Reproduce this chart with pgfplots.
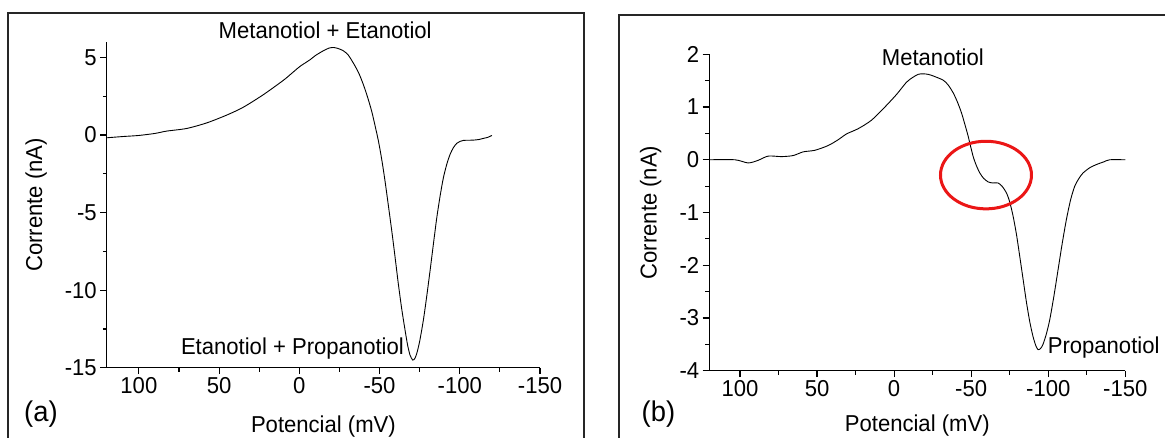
\documentclass[border=0pt]{standalone}
\usepackage{fontspec}
\setmainfont{Liberation Sans}[FakeStretch=0.96]
\usepackage{pgfplots}
\pgfplotsset{compat=1.18}

\definecolor{ring}{RGB}{235,22,22}
\newcommand\lbl{\fontsize{23bp}{27bp}\selectfont}

% left panel: mixture Metanotiol/Etanotiol/Propanotiol, potential (mV) vs current (nA)
\pgfplotstableread{
mV      I
120     -0.18
110     -0.10
100     -0.03
90      0.10
82.7    0.25
70.2    0.42
57.7    0.78
45.3    1.28
34.9    1.79
22.4    2.60
10      3.52
5       3.95
-0.4    4.42
-6.7    4.85
-10     5.12
-15     5.43
-18.5   5.60
-21.2   5.64
-24     5.58
-27.4   5.43
-30.5   5.15
-33.7   4.63
-37     4.00
-39.9   3.25
-42.5   2.45
-45.1   1.53
-47.2   0.60
-49.3   -0.39
-51.4   -1.60
-53.4   -2.96
-55.5   -4.55
-57.6   -6.17
-59.7   -7.90
-61.7   -9.59
-63.8   -11.20
-65.9   -12.58
-67.5   -13.55
-69     -14.19
-70.7   -14.51
-72     -14.40
-73.2   -14.08
-75     -13.30
-77.3   -11.94
-79.4   -10.40
-81.5   -8.73
-83.6   -7.00
-85.7   -5.31
-87.8   -3.90
-89.8   -2.75
-92     -1.85
-94     -1.24
-96     -0.82
-98.1   -0.54
-100    -0.42
-102.2  -0.35
-105    -0.34
-108.5  -0.33
-112    -0.29
-114.7  -0.22
-117.5  -0.15
-120    -0.03
}\curveA

% right panel
\pgfplotstableread{
mV      I
120     0.00
103.3   0.00
94.7    -0.06
88.2    -0.01
81.7    0.07
73      0.06
65.5    0.08
59      0.15
51.4    0.18
42.8    0.27
36.3    0.38
30.9    0.49
23.3    0.59
14.7    0.75
6.0     1.00
-1.6    1.24
-8      1.47
-12     1.56
-15.6   1.62
-18.8   1.63
-22     1.62
-25.3   1.59
-31.8   1.51
-35     1.42
-38.3   1.27
-41     1.10
-43.7   0.89
-46     0.66
-48     0.45
-51.2   0.07
-53.5   -0.12
-55.6   -0.25
-58     -0.35
-61     -0.42
-64     -0.44
-67.4   -0.44
-70     -0.50
-72.9   -0.63
-75     -0.80
-77.2   -1.07
-79.4   -1.42
-81.5   -1.83
-83.7   -2.27
-85.9   -2.71
-88     -3.07
-90.1   -3.35
-92     -3.53
-93.4   -3.60
-95     -3.58
-96.6   -3.50
-98.8   -3.30
-101    -3.03
-103.7  -2.58
-106.4  -2.08
-109.1  -1.58
-111.8  -1.13
-114.5  -0.76
-117.2  -0.50
-120    -0.35
-122.6  -0.25
-127    -0.15
-131.3  -0.09
-136    -0.04
-139.9  0.00
-150    0.00
}\curveB

\pgfplotsset{
  voltam/.style={
    scale only axis,
    x dir=reverse,
    xmin=-150, xmax=120,
    axis x line*=bottom, axis y line*=left,
    axis line style={line width=1.2bp, -},
    tick align=outside,
    major tick length=6.5bp, minor tick length=4bp,
    tick style={line width=1.2bp, black},
    minor x tick num=1, minor y tick num=1,
    xtick={100,50,0,-50,-100,-150},
    xticklabels={100,50,0,-50,-100,-150},
    tick label style={font=\lbl},
    label style={font=\lbl},
    xlabel={Potencial (mV)},
    ylabel={Corrente (nA)},
    clip=false,
  },
  curve/.style={black, line width=0.9bp, smooth, tension=0.45, no marks},
}

\begin{document}
\begin{tikzpicture}
\path[use as bounding box] (0,0) rectangle (1165bp,438bp);

% panel frames
\draw[line width=2bp, black!85] (8bp,-5bp) -- (8bp,425bp) -- (584bp,425bp) -- (584bp,-5bp);
\draw[line width=2bp, black!85] (619bp,-5bp) -- (619bp,423.3bp) -- (1175bp,423.3bp);

% (a)
\begin{axis}[voltam,
  at={(106.8bp,70.3bp)}, anchor=south west,
  width=433.2bp, height=325.8bp,
  ymin=-15, ymax=6,
  ytick={5,0,-5,-10,-15}, yticklabels={5,0,-5,-10,-15},
  xlabel style={at={(axis description cs:0.5,-0.198)}, anchor=base},
  ylabel style={at={(axis description cs:-0.163,0.5)}, anchor=center},
]
\addplot[curve] table[x=mV, y=I] {\curveA};
\end{axis}

% (b)
\begin{axis}[voltam,
  at={(709.2bp,67.3bp)}, anchor=south west,
  width=416.1bp, height=316.4bp,
  ymin=-4, ymax=2,
  ytick={2,1,0,-1,-2,-3,-4}, yticklabels={2,1,0,-1,-2,-3,-4},
  xlabel style={at={(axis description cs:0.5,-0.193)}, anchor=base},
  ylabel style={at={(axis description cs:-0.1406,0.5)}, anchor=center},
]
\addplot[curve] table[x=mV, y=I] {\curveB};
\draw[ring, line width=3bp] (axis cs:-59.6,-0.29) ellipse [x radius=45.5bp, y radius=33.8bp];
\end{axis}

% peak labels
\node[anchor=base west, inner sep=0, font=\lbl] at (218.5bp,399bp) {Metanotiol + Etanotiol};
\node[anchor=base east, inner sep=0, font=\lbl] at (404bp,83.5bp) {Etanotiol + Propanotiol};
\node[anchor=base west, inner sep=0, font=\lbl] at (881.7bp,372bp) {Metanotiol};
\node[anchor=base west, inner sep=0, font=\lbl] at (1047.6bp,84bp) {Propanotiol};

% panel letters
\node[anchor=base west, inner sep=0, font=\fontsize{28.5bp}{32bp}\selectfont] at (24bp,17bp) {(a)};
\node[anchor=base west, inner sep=0, font=\fontsize{28.5bp}{32bp}\selectfont] at (641.5bp,17bp) {(b)};
\end{tikzpicture}
\end{document}
